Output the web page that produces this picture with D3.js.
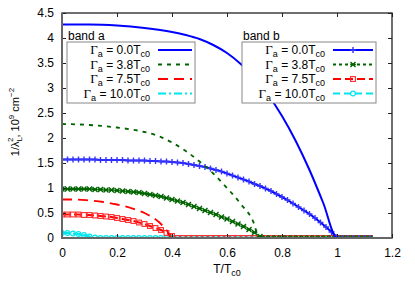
<!DOCTYPE html>
<html>
<head>
<meta charset="utf-8">
<script src="https://d3js.org/d3.v7.min.js"></script>
<style>
  body { margin: 0; background: #fff; }
  svg { display: block; font-family: "Liberation Sans", Arial, sans-serif; }
</style>
</head>
<body>
<script>
// band b: dense grid of points (every point is drawn as a marker)
const tB = [0,0.02,0.04,0.06,0.08,0.1,0.12,0.14,0.16,0.18,0.2,0.22,0.24,0.26,0.28,0.3,0.32,0.34,0.36,0.38,
  0.4,0.42,0.44,0.46,0.48,0.5,0.52,0.54,0.56,0.58,0.6,0.62,0.64,0.66,0.68,0.7,0.72,0.74,0.76,0.78,
  0.8,0.82,0.84,0.86,0.88,0.9,0.92,0.94,0.96,0.98,1.0,1.02,1.04,1.06,1.08,1.1,1.12];
const bandB0 = [1.57,1.57,1.57,1.57,1.57,1.57,1.57,1.56,1.56,1.56,1.56,1.56,1.55,1.55,1.55,1.55,1.54,1.54,1.53,1.53,
  1.52,1.51,1.50,1.48,1.46,1.44,1.42,1.39,1.36,1.33,1.29,1.25,1.21,1.17,1.13,1.08,1.04,0.99,0.94,0.88,
  0.82,0.76,0.69,0.62,0.55,0.48,0.40,0.31,0.22,0.12,0.02,0,0,0,0,0,0];
const bandB38 = [0.98,0.98,0.98,0.98,0.98,0.98,0.97,0.97,0.96,0.96,0.95,0.94,0.93,0.92,0.91,0.89,0.87,0.85,0.83,0.80,
  0.77,0.74,0.71,0.67,0.63,0.59,0.55,0.51,0.47,0.42,0.38,0.33,0.28,0.23,0.17,0.11,0.03,0,0,0,
  0,0,0,0,0,0,0,0,0,0,0,0,0,0,0,0,0];
const bandB75 = [0.47,0.47,0.47,0.47,0.46,0.46,0.45,0.44,0.43,0.42,0.40,0.38,0.36,0.34,0.31,0.28,0.24,0.20,0.16,0.10,
  0.04,0,0,0,0,0,0,0,0,0,0,0,0,0,0,0,0,0,0,0,
  0,0,0,0,0,0,0,0,0,0,0,0,0,0,0,0,0];
const bandB100 = [0.10,0.10,0.09,0.08,0.06,0.03,0.01,0,0,0,0,0,0,0,0,0,0,0,0,0,
  0,0,0,0,0,0,0,0,0,0,0,0,0,0,0,0,0,0,0,0,
  0,0,0,0,0,0,0,0,0,0,0,0,0,0,0,0,0];

// band a: lines only
const tA0 = [0,0.1,0.2,0.3,0.4,0.45,0.5,0.55,0.6,0.65,0.7,0.75,0.8,0.85,0.9,0.95,1.0,1.12];
const bandA0 = [4.27,4.27,4.25,4.2,4.12,4.06,3.98,3.86,3.70,3.48,3.20,2.86,2.44,1.94,1.36,0.70,0,0];
const tA38 = [0,0.1,0.2,0.3,0.35,0.4,0.45,0.5,0.55,0.6,0.65,0.7,0.715,1.12];
const bandA38 = [2.28,2.26,2.21,2.12,2.04,1.91,1.74,1.53,1.29,1.0,0.68,0.26,0,0];
const tA75 = [0,0.05,0.1,0.15,0.2,0.25,0.3,0.33,0.36,0.38,0.40,1.12];
const bandA75 = [0.77,0.77,0.75,0.72,0.67,0.6,0.5,0.41,0.28,0.16,0,0];
const tA100 = [0,0.05,0.1,0.12,1.12];
const bandA100 = [0.1,0.08,0.03,0,0];

const legendLabels = ["0.0", "3.8", "7.5", "10.0"];
const xTicks = [0, 0.2, 0.4, 0.6, 0.8, 1, 1.2];
const yTicks = [0, 0.5, 1, 1.5, 2, 2.5, 3, 3.5, 4, 4.5];

const W = 415, H = 291;
const margin = {top: 13, right: 23, bottom: 53, left: 62};
const iw = W - margin.left - margin.right, ih = H - margin.top - margin.bottom;

const svg = d3.select("body").append("svg").attr("width", W).attr("height", H);
const g = svg.append("g").attr("transform", `translate(${margin.left},${margin.top})`);

const x = d3.scaleLinear().domain([0, 1.2]).range([0, iw]);
const y = d3.scaleLinear().domain([0, 4.5]).range([ih, 0]);

svg.append("defs").append("clipPath").attr("id", "clip")
  .append("rect").attr("width", iw).attr("height", ih);

// styles per series
const styles = [
  {color: "#0000ff", dashA: null, dashB: null, marker: "plus"},
  {color: "#006400", dashA: "4,5", dashB: "3,3", marker: "star"},
  {color: "#ff0000", dashA: "10,6", dashB: "8,4", marker: "square"},
  {color: "#00e5ee", dashA: "8,3,2,3", dashB: "7,4", marker: "circle"}
];

const line = d3.line().x(d => x(d[0])).y(d => y(d[1]));
const zip = (a, b) => a.map((v, i) => [v, b[i]]);

const plot = g.append("g").attr("clip-path", "url(#clip)");

const seriesA = [zip(tA0, bandA0), zip(tA38, bandA38), zip(tA75, bandA75), zip(tA100, bandA100)];
const seriesB = [zip(tB, bandB0), zip(tB, bandB38), zip(tB, bandB75), zip(tB, bandB100)];

function drawMarker(sel, type, color, cx, cy) {
  if (type === "plus") {
    sel.append("path").attr("d", `M${cx-3},${cy}H${cx+3}M${cx},${cy-3}V${cy+3}`)
      .attr("stroke", "#3535ff").attr("stroke-width", 1.4);
  } else if (type === "star") {
    sel.append("path").attr("d", `M${cx-2.5},${cy-2.5}L${cx+2.5},${cy+2.5}M${cx-2.5},${cy+2.5}L${cx+2.5},${cy-2.5}M${cx-2.8},${cy}H${cx+2.8}`)
      .attr("stroke", color).attr("stroke-width", 1.4);
  } else if (type === "square") {
    sel.append("rect").attr("x", cx - 2.4).attr("y", cy - 2.4).attr("width", 4.8).attr("height", 4.8)
      .attr("fill", "none").attr("stroke", "#ff2a2a").attr("stroke-width", 1.1);
  } else {
    sel.append("circle").attr("cx", cx).attr("cy", cy).attr("r", 2.4)
      .attr("fill", "none").attr("stroke", color).attr("stroke-width", 1.1);
  }
}

seriesB.forEach((s, i) => {
  const st = styles[i];
  plot.append("path").datum(s).attr("d", line).attr("fill", "none")
    .attr("stroke", st.color).attr("stroke-width", 2)
    .attr("stroke-dasharray", st.dashB);
});
[3, 2, 1, 0].forEach(i => {
  const st = styles[i];
  const mg = plot.append("g");
  seriesB[i].forEach(d => drawMarker(mg, st.marker, st.color, x(d[0]), y(d[1])));
});
const curveLine = d3.line().x(d => x(d[0])).y(d => y(d[1])).curve(d3.curveMonotoneX);
seriesA.forEach((s, i) => {
  const st = styles[i];
  plot.append("path").datum(s).attr("d", curveLine).attr("fill", "none")
    .attr("stroke", st.color).attr("stroke-width", i === 0 ? 2 : 1.8)
    .attr("stroke-dasharray", st.dashA);
});

// axes with inward ticks, mirrored
const fmt = d3.format("~g");
const ax = g.append("g").attr("transform", `translate(0,${ih})`)
  .call(d3.axisBottom(x).tickValues(xTicks).tickFormat(fmt).tickSize(-4).tickPadding(10));
const ay = g.append("g")
  .call(d3.axisLeft(y).tickValues(yTicks).tickFormat(fmt).tickSize(-4).tickPadding(8));
g.append("g").call(d3.axisTop(x).tickValues(xTicks).tickFormat("").tickSize(-4));
g.append("g").attr("transform", `translate(${iw},0)`)
  .call(d3.axisRight(y).tickValues(yTicks).tickFormat("").tickSize(-4));
g.selectAll(".domain").remove();
g.selectAll(".tick line").attr("stroke", "#222").attr("stroke-width", 1);
[ax, ay].forEach(a => a.selectAll("text").attr("font-size", 12).attr("fill", "#000")
  .attr("font-family", "Liberation Sans, Arial, sans-serif"));

// frame
g.append("rect").attr("width", iw).attr("height", ih).attr("fill", "none")
  .attr("stroke", "#222").attr("stroke-width", 1.3);
g.append("path").attr("d", `M0,0V${ih}H${iw}`).attr("fill", "none")
  .attr("stroke", "#666").attr("stroke-width", 2);

// axis titles
const xl = svg.append("text").attr("x", 227).attr("y", 273).attr("text-anchor", "middle")
  .attr("font-size", 12);
xl.append("tspan").text("T/T");
xl.append("tspan").attr("dy", 3).attr("font-size", 9).text("c0");

const yl = svg.append("text").attr("transform", "translate(19,122) rotate(-90)")
  .attr("text-anchor", "middle").attr("font-size", 11);
yl.append("tspan").text("1/λ");
yl.append("tspan").attr("dy", 3).attr("font-size", 8).text("L");
yl.append("tspan").attr("dx", -5).attr("dy", -9).attr("font-size", 8).text("2");
yl.append("tspan").attr("dy", 6).text(", 10");
yl.append("tspan").attr("dy", -5).attr("font-size", 8).text("9");
yl.append("tspan").attr("dy", 5).text(" cm");
yl.append("tspan").attr("dy", -5).attr("font-size", 8).text("−2");

// legends
function legend(x0, title, boxW, withMarkers) {
  const lg = svg.append("g");
  lg.append("text").attr("x", x0 + 1).attr("y", 39.5).attr("font-size", 12).text(title);
  lg.append("rect").attr("x", x0).attr("y", 42).attr("width", boxW).attr("height", 61)
    .attr("fill", "#fff").attr("stroke", "#888").attr("stroke-width", 1);
  legendLabels.forEach((lab, i) => {
    const cy = 50 + i * 14.5;
    const st = styles[i];
    const t = lg.append("text").attr("x", x0 + 83).attr("y", cy + 4).attr("text-anchor", "end")
      .attr("font-size", 12);
    t.append("tspan").attr("font-family", "Liberation Serif, serif").attr("font-size", 13).text("Γ");
    t.append("tspan").attr("dy", 3).attr("font-size", 9).text("a");
    t.append("tspan").attr("dy", -3).text(" = " + lab + "T");
    t.append("tspan").attr("dy", 3).attr("font-size", 9).text("c0");
    const sx1 = x0 + 91, sx2 = x0 + boxW - 3;
    lg.append("line").attr("x1", sx1).attr("x2", sx2).attr("y1", cy).attr("y2", cy)
      .attr("stroke", st.color).attr("stroke-width", 1.8)
      .attr("stroke-dasharray", withMarkers ? st.dashB : st.dashA);
    if (withMarkers) drawMarker(lg, st.marker, st.color, (sx1 + sx2) / 2, cy);
  });
}
legend(67, "band a", 128, false);
legend(242, "band b", 134, true);
</script>
</body>
</html>
